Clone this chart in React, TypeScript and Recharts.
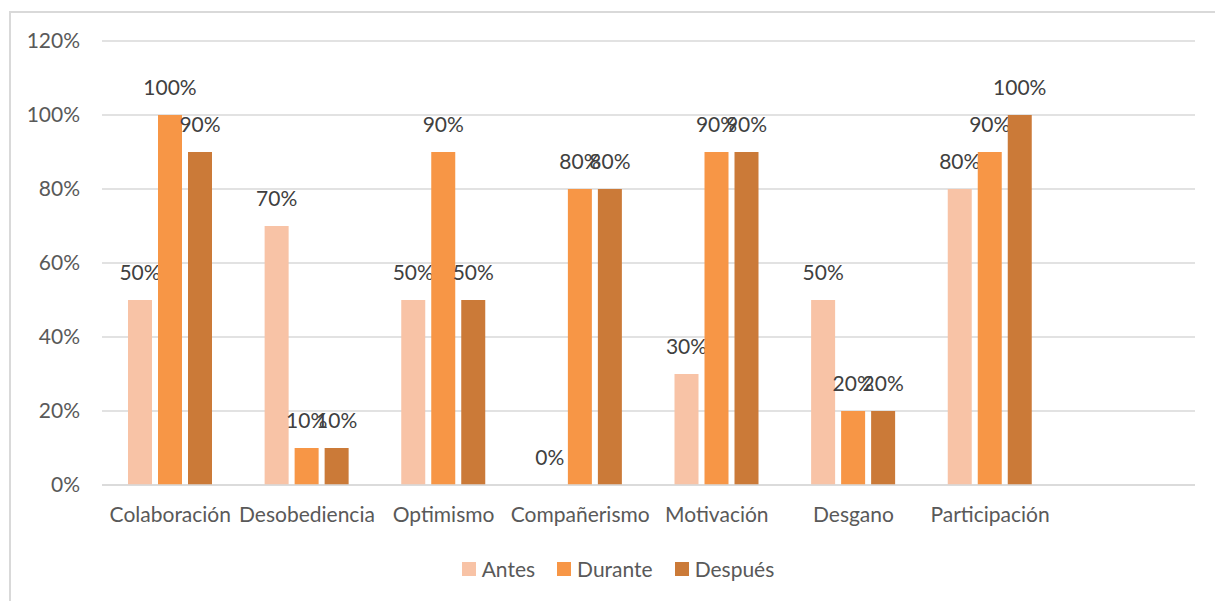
import { Bar, BarChart, CartesianGrid, Legend, XAxis, YAxis } from "recharts";

// Categories (the trailing blank slot keeps the empty band on the right)
const categories = [
  "Colaboración",
  "Desobediencia",
  "Optimismo",
  "Compañerismo",
  "Motivación",
  "Desgano",
  "Participación",
  "",
];

const antes = [0.5, 0.7, 0.5, 0, 0.3, 0.5, 0.8, null];
const durante = [1, 0.1, 0.9, 0.8, 0.9, 0.2, 0.9, null];
const despues = [0.9, 0.1, 0.5, 0.8, 0.9, 0.2, 1, null];

const yTicks = [0, 0.2, 0.4, 0.6, 0.8, 1, 1.2];

const data = categories.map((name, i) => ({
  name,
  antes: antes[i],
  durante: durante[i],
  despues: despues[i],
}));

const FONT = "Lato, 'Open Sans', sans-serif";
const TEXT = "#595959";
const SIZE = 21;

const pct = (v: unknown) =>
  v === null || v === undefined ? "" : `${Math.round(Number(v) * 100)}%`;

const series = [
  { key: "antes", name: "Antes", color: "#f8c3a6" },
  { key: "durante", name: "Durante", color: "#f79646" },
  { key: "despues", name: "Después", color: "#cb7a38" },
];

// bar rectangle with its value written above the top (zero bars keep their label)
function BarWithLabel(props: any) {
  const { x, y, width, height, fill, value } = props;
  const v = Array.isArray(value) ? value[1] - value[0] : value;
  if (v === null || v === undefined) return null;
  return (
    <g>
      {height > 0 && <rect x={x} y={y} width={width} height={height} fill={fill} />}
      <text
        x={Number(x) + Number(width) / 2}
        y={Number(y) - 20}
        textAnchor="middle"
        fontFamily={FONT}
        fontSize={SIZE}
        fill="#404040"
      >
        {pct(v)}
      </text>
    </g>
  );
}

function LegendContent() {
  return (
    <div
      style={{
        display: "flex",
        justifyContent: "center",
        gap: 22,
        fontFamily: FONT,
        fontSize: SIZE,
        color: TEXT,
      }}
    >
      {series.map((s) => (
        <div key={s.key} style={{ display: "flex", alignItems: "center" }}>
          <span
            style={{
              width: 14,
              height: 14,
              background: s.color,
              display: "inline-block",
              marginRight: 6,
            }}
          />
          {s.name}
        </div>
      ))}
    </div>
  );
}

export default function App() {
  return (
    <div
      style={{
        position: "absolute",
        left: 0,
        top: 0,
        width: 1215,
        height: 601,
        background: "#fff",
        overflow: "hidden",
      }}
    >
      <div
        style={{
          position: "absolute",
          left: 9,
          top: 11,
          width: 1220,
          height: 600,
          borderLeft: "2px solid #d9d9d9",
          borderTop: "2px solid #d9d9d9",
        }}
      />
      <BarChart
        width={1215}
        height={601}
        data={data}
        margin={{ top: 41, right: 20, left: 0, bottom: 41 }}
        barSize={24}
        barGap={6}
      >
        <CartesianGrid vertical={false} stroke="#d9d9d9" strokeWidth={1.5} />
        <XAxis
          dataKey="name"
          interval={0}
          axisLine={{ stroke: "#d9d9d9", strokeWidth: 1.5 }}
          tickLine={false}
          tick={{ fontFamily: FONT, fontSize: SIZE, fill: TEXT }}
          tickMargin={16}
          height={50}
        />
        <YAxis
          domain={[0, 1.2]}
          ticks={yTicks}
          tickFormatter={pct}
          axisLine={false}
          tickLine={false}
          tickMargin={16}
          width={102}
          tick={{ fontFamily: FONT, fontSize: SIZE, fill: TEXT }}
        />
        <Legend
          verticalAlign="bottom"
          content={<LegendContent />}
          wrapperStyle={{ top: 556, bottom: "auto", left: 0, width: 1236 }}
        />
        {series.map((s) => (
          <Bar
            key={s.key}
            dataKey={s.key}
            name={s.name}
            fill={s.color}
            isAnimationActive={false}
            shape={<BarWithLabel />}
          />
        ))}
      </BarChart>
    </div>
  );
}
